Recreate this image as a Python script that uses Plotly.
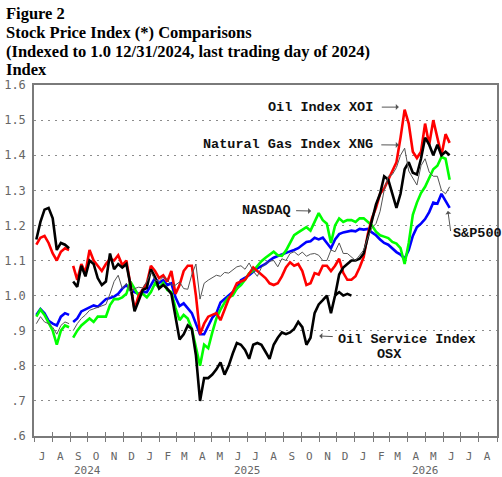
import pandas as pd
import plotly.graph_objects as go

# ---------------- data (weekly readings, indexed to 1.0 at 12/31/2024) ----------------
week_start = "2024-07-05"
n_weeks = 102
gap_dates = ["2024-09-02"]

osx = [1.16, 1.21, 1.245, 1.25, 1.22, 1.13, 1.15, 1.145, 1.135, 1.04,
       1.025, 1.085, 1.055, 1.10, 1.09, 1.05, 1.03, 1.04, 1.12, 1.075,
       1.09, 1.08, 1.09, 1.03, 0.955, 0.985, 1.016, 1.022, 1.075, 1.053,
       1.02, 1.03, 1.02, 1.005, 0.94, 0.875, 0.89, 0.915, 0.905, 0.83,
       0.70, 0.765, 0.765, 0.775, 0.79, 0.81, 0.775, 0.80, 0.835, 0.865,
       0.86, 0.845, 0.82, 0.86, 0.865, 0.86, 0.84, 0.82, 0.86, 0.88,
       0.895, 0.89, 0.895, 0.905, 0.925, 0.91, 0.86, 0.88, 0.95, 0.975,
       0.987, 1.0, 0.95, 1.0, 1.06, 1.08, 1.09, 1.10, 1.10, 1.105,
       1.12, 1.165, 1.21, 1.26, 1.29, 1.34, 1.33, 1.29, 1.25, 1.29,
       1.36, 1.38, 1.35, 1.345, 1.39, 1.45, 1.43, 1.40, 1.43, 1.40,
       1.41, 1.40]

osx_branch_start = 73
osx_branch = [1.0, 1.01, 1.0, 1.005, 1.0]

xoi = [1.145, 1.165, 1.17, 1.15, 1.12, 1.10, 1.125, 1.135, 1.13, 1.085,
       1.045, 1.09, 1.065, 1.13, 1.10, 1.085, 1.07, 1.09, 1.105, 1.10,
       1.115, 1.087, 1.10, 1.03, 0.96, 1.0, 1.016, 1.035, 1.085, 1.07,
       1.05, 1.058, 1.04, 1.07, 1.005, 1.03, 1.07, 1.085, 1.085, 1.0,
       0.89, 0.92, 0.94, 0.945, 0.95, 0.93, 0.96, 0.99, 1.01, 1.035,
       1.04, 1.045, 1.062, 1.08, 1.07, 1.06, 1.05, 1.035, 1.03, 1.035,
       1.055, 1.08, 1.095, 1.085, 1.09, 1.07, 1.03, 1.035, 1.064, 1.06,
       1.085, 1.085, 1.07, 1.085, 1.105, 1.065, 1.045, 1.045, 1.055, 1.08,
       1.11, 1.175, 1.22, 1.25, 1.29, 1.305, 1.33, 1.35, 1.38, 1.45,
       1.53, 1.49, 1.41, 1.392, 1.41, 1.49, 1.43, 1.50, 1.45, 1.40,
       1.46, 1.435]

xng = [0.92, 0.94, 0.925, 0.92, 0.91, 0.89, 0.915, 0.925, 0.92, 0.90,
       0.92, 0.935, 0.945, 0.958, 0.962, 0.968, 0.97, 0.975, 1.005, 1.04,
       1.058, 1.02, 1.035, 1.01, 1.02, 1.024, 1.022, 1.04, 1.067, 1.045,
       1.04, 1.053, 1.045, 1.03, 1.03, 1.039, 1.02, 1.018, 1.06, 1.09,
       0.99, 1.035, 1.044, 1.05, 1.058, 1.055, 1.066, 1.064, 1.073, 1.082,
       1.085, 1.075, 1.093, 1.07, 1.055, 1.08, 1.09, 1.098, 1.10, 1.082,
       1.105, 1.10, 1.12, 1.125, 1.115, 1.124, 1.112, 1.118, 1.12, 1.115,
       1.10, 1.10, 1.13, 1.125, 1.15, 1.12, 1.12, 1.11, 1.10, 1.115,
       1.13, 1.165, 1.193, 1.205, 1.24, 1.30, 1.34, 1.345, 1.365, 1.40,
       1.42, 1.355, 1.333, 1.315, 1.37, 1.39, 1.352, 1.34, 1.34, 1.30,
       1.29, 1.31]

nasdaq = [0.94, 0.96, 0.945, 0.92, 0.90, 0.86, 0.90, 0.915, 0.91, 0.88,
          0.90, 0.915, 0.925, 0.935, 0.925, 0.94, 0.94, 0.94, 0.973, 0.99,
          0.99, 0.995, 1.005, 1.04, 1.02, 1.0, 1.005, 0.995, 1.01, 1.035,
          1.022, 1.036, 1.016, 1.01, 0.965, 0.93, 0.945, 0.935, 0.905, 0.855,
          0.80, 0.86, 0.85, 0.895, 0.935, 0.96, 0.98, 0.995, 1.0, 1.02,
          1.03, 1.045, 1.064, 1.07, 1.085, 1.098, 1.108, 1.116, 1.125, 1.115,
          1.113, 1.128, 1.152, 1.172, 1.18, 1.187, 1.195, 1.185, 1.21, 1.235,
          1.215, 1.205, 1.15, 1.20, 1.22, 1.21, 1.215, 1.215, 1.21, 1.22,
          1.22, 1.21, 1.20, 1.182, 1.172, 1.168, 1.164, 1.153, 1.148, 1.135,
          1.09, 1.15, 1.23, 1.265, 1.292, 1.31, 1.335, 1.36, 1.37, 1.395,
          1.39, 1.33]

sp500 = [0.945, 0.962, 0.95, 0.928, 0.92, 0.915, 0.94, 0.95, 0.945, 0.925,
         0.935, 0.955, 0.96, 0.967, 0.972, 0.968, 0.98, 0.99, 0.993, 0.997,
         1.005, 1.02, 1.03, 1.016, 1.01, 1.005, 1.01, 1.01, 1.03, 1.05,
         1.036, 1.044, 1.03, 1.035, 0.995, 0.97, 0.978, 0.965, 0.95, 0.92,
         0.89, 0.89, 0.915, 0.937, 0.95, 0.98, 0.99, 1.0, 1.008, 1.02,
         1.044, 1.05, 1.058, 1.068, 1.078, 1.084, 1.09, 1.10, 1.108, 1.113,
         1.118, 1.122, 1.126, 1.13, 1.135, 1.144, 1.153, 1.155, 1.165, 1.16,
         1.165, 1.15, 1.135, 1.16, 1.175, 1.18, 1.183, 1.185, 1.183, 1.19,
         1.188, 1.19, 1.18, 1.172, 1.16, 1.15, 1.145, 1.135, 1.124, 1.117,
         1.105, 1.13, 1.17, 1.195, 1.205, 1.218, 1.238, 1.265, 1.262, 1.29,
         1.27, 1.25]

month_letters = ["J", "A", "S", "O", "N", "D", "J", "F", "M", "A", "M", "J", "J",
                 "A", "S", "O", "N", "D", "J", "F", "M", "A", "M", "J", "J", "A"]
year_labels = ["2024", "2025", "2026"]
year_label_dates = ["2024-10-01", "2025-07-01", "2026-05-01"]
y_tick_vals = [0.6, 0.7, 0.8, 0.9, 1.0, 1.1, 1.2, 1.3, 1.4, 1.5, 1.6]
y_tick_text = [".6", ".7", ".8", ".9", "1.0", "1.1", "1.2", "1.3", "1.4", "1.5", "1.6"]

title_lines = ["Figure 2",
               "Stock Price Index (*) Comparisons",
               "(Indexed to 1.0 12/31/2024, last trading day of 2024)",
               "Index"]

# ---------------- build frame ----------------
dates = pd.date_range(week_start, periods=n_weeks, freq="7D")
df = pd.DataFrame({"osx": osx, "xoi": xoi, "xng": xng, "nasdaq": nasdaq, "sp500": sp500},
                  index=dates)
df = pd.concat([df, pd.DataFrame(index=pd.to_datetime(gap_dates))]).sort_index()

branch_dates = dates[osx_branch_start:osx_branch_start + len(osx_branch)]

x_start, x_end = "2024-07-01", "2026-09-01"
month_starts = pd.date_range(x_start, x_end, freq="MS")
mid_months = month_starts[:-1] + pd.Timedelta(days=14)

AX_GRAY = "#7a7a7a"
Y_TICK_FONT = dict(family="DejaVu Sans Mono", size=12, color="#666666")
X_TICK_FONT = dict(family="DejaVu Sans Mono", size=11, color="#666666")

fig = go.Figure()
series = [
    ("sp500", "#0000ff", 2.6),
    ("nasdaq", "#00ff00", 2.6),
    ("xoi", "#ff0000", 2.6),
    ("osx", "#000000", 2.6),
    ("xng", "#555555", 1.0),
]
for col, color, w in series:
    fig.add_trace(go.Scatter(x=df.index, y=df[col], mode="lines",
                             line=dict(color=color, width=w),
                             showlegend=False, hoverinfo="skip"))
    if col == "osx":
        fig.add_trace(go.Scatter(x=branch_dates, y=osx_branch, mode="lines",
                                 line=dict(color=color, width=w),
                                 showlegend=False, hoverinfo="skip"))

# dummy trace for the overlay axis carrying the inward tick marks
fig.add_trace(go.Scatter(x=[dates[0]], y=[None], xaxis="x2", mode="lines",
                         showlegend=False, hoverinfo="skip"))

fig.update_layout(
    width=502, height=477,
    margin=dict(l=34, r=3, t=85, b=41),
    paper_bgcolor="white", plot_bgcolor="white",
    xaxis=dict(range=[x_start, x_end], tickmode="array", tickvals=mid_months,
               ticktext=month_letters, ticks="", showgrid=False, zeroline=False,
               showline=True, linecolor=AX_GRAY, linewidth=1.5, mirror=True,
               tickfont=X_TICK_FONT, ticklabelstandoff=9,
               minor=dict(tickmode="array", tickvals=month_starts, ticks="outside",
                          ticklen=4, tickcolor=AX_GRAY, tickwidth=1, showgrid=False)),
    xaxis2=dict(overlaying="x", matches="x", anchor="y", side="bottom",
                tickmode="array", tickvals=month_starts, ticks="inside", ticklen=4,
                tickcolor=AX_GRAY, tickwidth=1, showticklabels=False,
                showgrid=False, zeroline=False, showline=False),
    yaxis=dict(range=[0.6, 1.6], tickmode="array", tickvals=y_tick_vals,
               ticktext=y_tick_text, ticks="", showgrid=True, gridcolor="#8c8c8c",
               griddash="2px,5px", gridwidth=1, zeroline=False,
               showline=True, linecolor=AX_GRAY, linewidth=1.5, mirror=True,
               tickfont=Y_TICK_FONT, ticklabelstandoff=4),
)

# title lines
title_y = [1.2043, 1.1501, 1.0949, 1.0447]
for txt, yy in zip(title_lines, title_y):
    fig.add_annotation(text=txt, xref="paper", yref="paper", x=-0.064, y=yy,
                       xanchor="left", yanchor="middle", showarrow=False,
                       font=dict(family="Liberation Serif", size=16.5, color="black",
                                 weight="bold"))

# year labels
for yl, yd in zip(year_labels, year_label_dates):
    fig.add_annotation(text=yl, x=yd, xref="x", yref="paper", y=-0.097,
                       showarrow=False, xanchor="center", yanchor="middle",
                       font=X_TICK_FONT)

LBL_FONT = dict(family="Liberation Mono", size=13.5, color="#111111", weight="bold")
ARROW = dict(showarrow=True, arrowhead=1, arrowsize=1, arrowwidth=1,
             arrowcolor="#555555", axref="pixel", ayref="pixel")

fig.add_annotation(text="Oil Index XOI", x="2026-03-17", y=1.537, ax=-78, ay=0,
                   startstandoff=7, font=LBL_FONT, **ARROW)
fig.add_annotation(text="Natural Gas Index XNG", x="2026-03-17", y=1.429, ax=-111, ay=-1,
                   startstandoff=7, font=LBL_FONT, **ARROW)
fig.add_annotation(text="NASDAQ", x="2025-10-18", y=1.241, ax=-45, ay=-1,
                   startstandoff=4, font=LBL_FONT, **ARROW)
fig.add_annotation(text="S&P500", x="2026-06-09", y=1.241, ax=3, ay=22,
                   xanchor="left", startstandoff=2, font=LBL_FONT, **ARROW)
fig.add_annotation(text="Oil Service Index", x="2025-11-01", y=0.885, ax=88, ay=4,
                   startstandoff=4, font=LBL_FONT, **ARROW)
fig.add_annotation(text="OSX", x="2026-03-01", y=0.831, showarrow=False,
                   font=LBL_FONT)

fig.write_html("out.html")
